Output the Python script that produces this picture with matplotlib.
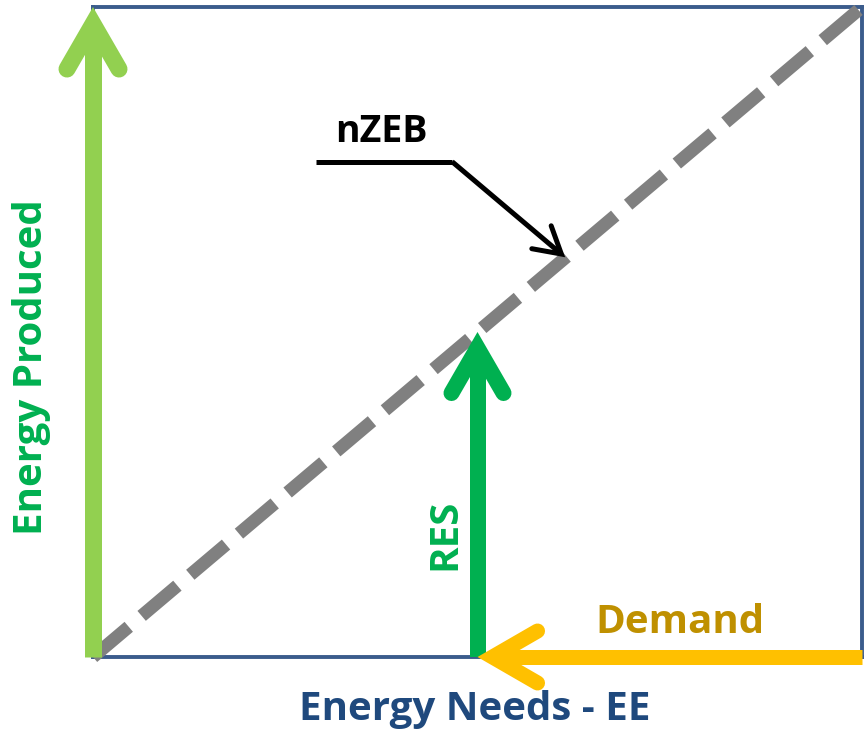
import numpy as np
import matplotlib

matplotlib.use("Agg")
import matplotlib.pyplot as plt

plt.rcParams["font.family"] = ["Open Sans", "DejaVu Sans"]

# diagram values, in units of the box (0..1 on both axes)
nzeb_line_x = [0.0, 1.0]
nzeb_line_y = [0.0, 1.0]
produced_arrow = [(0.0, 0.0), (0.0, 1.0)]
res_arrow = [(0.5, 0.0), (0.5, 0.5)]
demand_arrow = [(1.0, 0.0), (0.5, 0.0)]
leader_x = [0.29, 0.467, 0.614]
leader_y = [0.762, 0.762, 0.615]

DPI = 100
W, H = 864, 735
box = (93, 7, 862, 657)  # left, top, right, bottom in px

fig = plt.figure(figsize=(W / DPI, H / DPI), dpi=DPI)
ax = fig.add_axes([box[0] / W, (H - box[3]) / H,
                   (box[2] - box[0]) / W, (box[3] - box[1]) / H])
ax.set_xlim(0, 1)
ax.set_ylim(0, 1)
ax.set_xticks([])
ax.set_yticks([])
for s in ax.spines.values():
    s.set_color("#3B5C8C")
    s.set_linewidth(2.8)


def px(v):
    return v * 72.0 / DPI


def draw_arrow(start, end, color, width, arm=52, angle=30, z=5):
    # open chevron head with rounded ends, sizes in pixels
    to_disp = ax.transData.transform
    back = ax.transData.inverted().transform
    p0 = to_disp(start)
    p1 = to_disp(end)
    d = (p1 - p0) / np.hypot(*(p1 - p0))
    a = np.radians(angle)
    vertex = p1 - d * (width / 2) / np.sin(a)
    rot = lambda v, t: np.array([v[0] * np.cos(t) - v[1] * np.sin(t),
                                 v[0] * np.sin(t) + v[1] * np.cos(t)])
    e1 = vertex - rot(d, a) * arm
    e2 = vertex - rot(d, -a) * arm
    shaft = back(np.array([p0, vertex]))
    head = back(np.array([e1, vertex, e2]))
    ax.plot(shaft[:, 0], shaft[:, 1], color=color, lw=px(width),
            solid_capstyle="butt", clip_on=False, zorder=z)
    ax.plot(head[:, 0], head[:, 1], color=color, lw=px(width),
            solid_capstyle="round", solid_joinstyle="miter",
            clip_on=False, zorder=z)


ax.plot(nzeb_line_x, nzeb_line_y, color="#808080", lw=px(13),
        linestyle=(0, (3.6, 1.3)), dash_capstyle="butt",
        clip_on=False, zorder=3)

draw_arrow(*produced_arrow, color="#92D050", width=17, z=6)
draw_arrow(*res_arrow, color="#00B050", width=16, z=5)
draw_arrow(*demand_arrow, color="#FFC000", width=15, z=7)

# nZEB leader
ax.plot(leader_x[:2], leader_y[:2], color="black", lw=px(5),
        solid_capstyle="butt", clip_on=False, zorder=8)
draw_arrow((leader_x[1], leader_y[1]), (leader_x[2], leader_y[2]),
           color="black", width=5, arm=30, angle=30, z=8)

ax.text(0.3745, 0.792, "nZEB", fontsize=27, fontweight="bold",
        color="black", ha="center", va="baseline")
ax.text(0.763, 0.037, "Demand", fontsize=29, fontweight="bold",
        color="#BF9000", ha="center", va="baseline")
ax.text(0.497, -0.097, "Energy Needs - EE", fontsize=29, fontweight="bold",
        color="#1F497D", ha="center", va="baseline", clip_on=False)
ax.text(-0.0663, 0.446, "Energy Produced", fontsize=29, fontweight="bold",
        color="#00B050", ha="center", va="baseline", rotation=90,
        rotation_mode="anchor", clip_on=False)
ax.text(0.4707, 0.189, "RES", fontsize=29, fontweight="bold",
        color="#00B050", ha="center", va="baseline", rotation=90,
        rotation_mode="anchor")

fig.savefig("out.png", dpi=DPI)
